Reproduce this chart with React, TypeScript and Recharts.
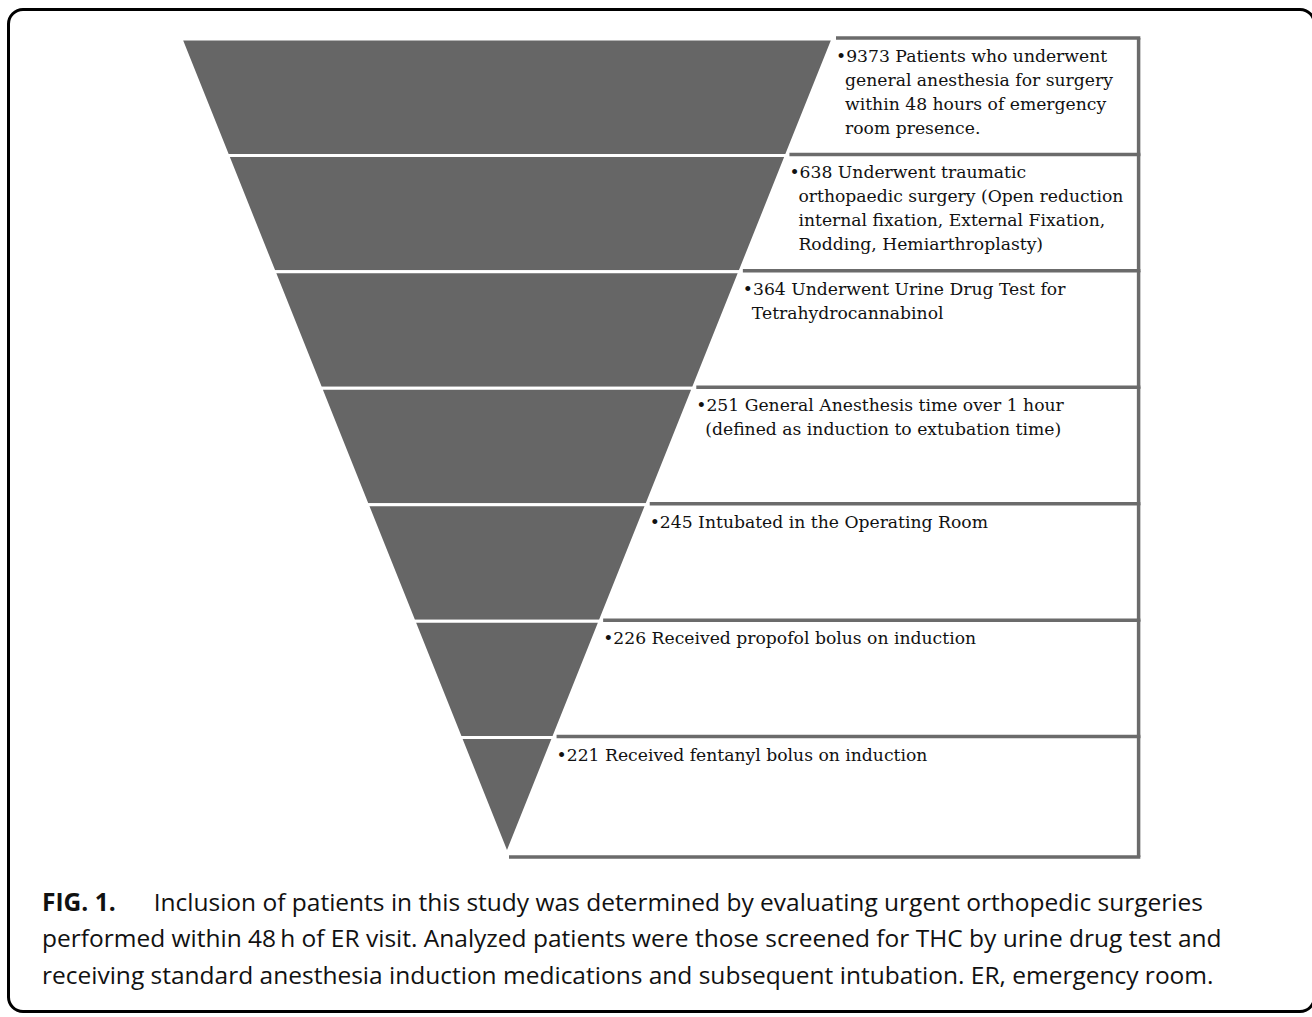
import { FunnelChart, Funnel } from "recharts";

const stageCounts = [9373, 638, 364, 251, 245, 226, 221];
// relative width of each step's top edge (last step closes to a point)
const stageWidths = [7, 6, 5, 4, 3, 2, 1];
const stageLines = [
  ["Patients who underwent", "general anesthesia for surgery", "within 48 hours of emergency", "room presence."],
  ["Underwent traumatic", "orthopaedic surgery (Open reduction", "internal fixation, External Fixation,", "Rodding, Hemiarthroplasty)"],
  ["Underwent Urine Drug Test for", "Tetrahydrocannabinol"],
  ["General Anesthesis time over 1 hour", "(defined as induction to extubation time)"],
  ["Intubated in the Operating Room"],
  ["Received propofol bolus on induction"],
  ["Received fentanyl bolus on induction"],
];
const captionLines = [
  "Inclusion of patients in this study was determined by evaluating urgent orthopedic surgeries",
  "performed within 48\u2009h of ER visit. Analyzed patients were those screened for THC by urine drug test and",
  "receiving standard anesthesia induction medications and subsequent intubation. ER, emergency room.",
];

const data = stageCounts.map((count, i) => ({
  name: `stage${i + 1}`,
  value: stageWidths[i],
  count,
  lines: stageLines[i],
}));

const CHART_W = 964;
const CHART_H = 815;
const FUNNEL_W = 652;
const BOX_OFFSET = 631.6; // from funnel centre to the right border of the text boxes
const LINE = "#6b6b6b";

function Step(props: any) {
  const { x, y, upperWidth, lowerWidth, height } = props;
  const d = props.payload && props.payload.lines ? props.payload : props;
  const right = x + upperWidth;
  const cx = x + upperWidth / 2;
  const boxRight = cx + BOX_OFFSET;
  const bx = x + (upperWidth - lowerWidth) / 2;
  const isLast = lowerWidth < 1;
  const pts = `${x},${y} ${right},${y} ${bx + lowerWidth},${y + height} ${bx},${y + height}`;
  const tx = right + 3;
  return (
    <g>
      <polygon points={pts} fill="#666666" stroke="#ffffff" strokeWidth={3} />
      <line x1={right + 3} y1={y - 1} x2={boxRight + 1.75} y2={y - 1} stroke={LINE} strokeWidth={3.5} />
      <line x1={boxRight} y1={y - 1} x2={boxRight} y2={y + height + (isLast ? 3 : 0)} stroke={LINE} strokeWidth={3.5} />
      {isLast && (
        <line x1={bx + 2} y1={y + height + 3} x2={boxRight + 1.75} y2={y + height + 3} stroke={LINE} strokeWidth={3.5} />
      )}
      <text x={tx} y={y + 23} fontFamily="'DejaVu Serif'" fontSize={17.2} fill="#111">
        {d.lines.map((ln: string, i: number) => (
          <tspan key={i} x={i === 0 ? tx : tx + 9} y={y + 23 + i * 24}>
            {i === 0 ? `\u2022${d.count} ${ln}` : ln}
          </tspan>
        ))}
      </text>
    </g>
  );
}

export default function App() {
  return (
    <div style={{ position: "absolute", left: 0, top: 0, width: 1312, height: 1017, overflow: "hidden", background: "#fff" }}>
      <style>{".recharts-surface{overflow:visible}"}</style>
      <div
        style={{
          position: "absolute",
          left: 7,
          top: 8,
          width: 1309,
          height: 1005,
          border: "3px solid #000",
          borderRadius: 16,
          boxSizing: "border-box",
        }}
      />
      <div style={{ position: "absolute", left: 181.4, top: 39 }}>
        <FunnelChart width={CHART_W} height={CHART_H} margin={{ top: 0, right: 0, bottom: 0, left: 0 }}>
          <Funnel
            dataKey="value"
            data={data}
            width={FUNNEL_W}
            lastShapeType="triangle"
            isAnimationActive={false}
            shape={Step}
          />
        </FunnelChart>
      </div>
      <div
        style={{
          position: "absolute",
          left: 42,
          top: 883.5,
          fontFamily: "'Open Sans'",
          fontSize: 24.5,
          lineHeight: "36.5px",
          color: "#111",
          whiteSpace: "nowrap",
        }}
      >
        {captionLines.map((ln, i) => (
          <div key={i}>
            {i === 0 && <b style={{ marginRight: 38 }}>FIG. 1.</b>}
            {ln}
          </div>
        ))}
      </div>
    </div>
  );
}
